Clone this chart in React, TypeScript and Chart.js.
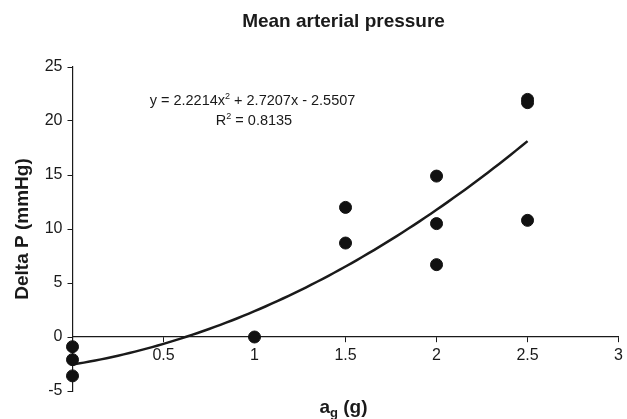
import React, { useEffect, useRef } from "react";
import { Chart, registerables } from "chart.js";

Chart.register(...registerables);

// ---- data ----
const accelerations = [0, 0, 0, 1, 1.5, 1.5, 2, 2, 2, 2.5, 2.5, 2.5];
const deltaP = [-0.9, -2.1, -3.6, 0, 12.0, 8.7, 14.9, 10.5, 6.7, 10.8, 22.0, 21.7];
const xTickValues = [0, 0.5, 1, 1.5, 2, 2.5, 3];
const yTickValues = [-5, 0, 5, 10, 15, 20, 25];
const trendCoefficients = [2.2214, 2.7207, -2.5507]; // y = a x^2 + b x + c
const trendRange = [0, 2.5];
const chartTitle = "Mean arterial pressure";
const yAxisTitle = "Delta P (mmHg)";
const xAxisTitleMain = "a";
const xAxisTitleSub = "g";
const xAxisTitleRest = " (g)";
const equationParts = [
  { t: "y = 2.2214x", sup: false },
  { t: "2", sup: true },
  { t: " + 2.7207x - 2.5507", sup: false },
];
const rSquaredParts = [
  { t: "R", sup: false },
  { t: "2", sup: true },
  { t: " = 0.8135", sup: false },
];

const FONT = "'Liberation Sans', Arial, Helvetica, sans-serif";
const INK = "#1a1a1a";

function drawParts(ctx: CanvasRenderingContext2D, parts: { t: string; sup: boolean }[], cx: number, baseline: number, size: number) {
  const main = `${size}px ${FONT}`;
  const small = `${Math.round(size * 0.65)}px ${FONT}`;
  let total = 0;
  for (const p of parts) {
    ctx.font = p.sup ? small : main;
    total += ctx.measureText(p.t).width;
  }
  let x = cx - total / 2;
  ctx.textAlign = "left";
  ctx.textBaseline = "alphabetic";
  for (const p of parts) {
    ctx.font = p.sup ? small : main;
    ctx.fillText(p.t, x, p.sup ? baseline - size * 0.38 : baseline);
    x += ctx.measureText(p.t).width;
  }
}

const trendPlugin = {
  id: "trendCurve",
  beforeDatasetsDraw(chart: any) {
    const { ctx, scales } = chart;
    const xs = scales.x;
    const ys = scales.y;
    const [a, b, c] = trendCoefficients;
    const steps = 80;
    ctx.save();
    ctx.beginPath();
    for (let i = 0; i <= steps; i++) {
      const xv = trendRange[0] + ((trendRange[1] - trendRange[0]) * i) / steps;
      const yv = a * xv * xv + b * xv + c;
      const px = xs.getPixelForValue(xv);
      const py = ys.getPixelForValue(yv);
      if (i === 0) ctx.moveTo(px, py);
      else ctx.lineTo(px, py);
    }
    ctx.strokeStyle = INK;
    ctx.lineWidth = 2.5;
    ctx.lineJoin = "round";
    ctx.stroke();
    ctx.restore();
  },
};

const textPlugin = {
  id: "texts",
  afterDraw(chart: any) {
    const { ctx, chartArea } = chart;
    const cx = (chartArea.left + chartArea.right) / 2 - 2;
    ctx.save();
    ctx.fillStyle = INK;
    // title
    ctx.font = `bold 19px ${FONT}`;
    ctx.textAlign = "center";
    ctx.textBaseline = "alphabetic";
    ctx.fillText(chartTitle, cx, 26.5);

    // x axis title with subscript
    const mainFont = `bold 19px ${FONT}`;
    const subFont = `bold 13px ${FONT}`;
    ctx.font = mainFont;
    const wA = ctx.measureText(xAxisTitleMain).width;
    const wR = ctx.measureText(xAxisTitleRest).width;
    ctx.font = subFont;
    const wG = ctx.measureText(xAxisTitleSub).width;
    let x = cx - (wA + wG + wR) / 2;
    ctx.textAlign = "left";
    ctx.font = mainFont;
    ctx.fillText(xAxisTitleMain, x, 413);
    x += wA;
    ctx.font = subFont;
    ctx.fillText(xAxisTitleSub, x, 417);
    x += wG;
    ctx.font = mainFont;
    ctx.fillText(xAxisTitleRest, x, 413);

    // y axis title
    ctx.save();
    ctx.translate(27.5, (chartArea.top + chartArea.bottom) / 2);
    ctx.rotate(-Math.PI / 2);
    ctx.textAlign = "center";
    ctx.font = `bold 19px ${FONT}`;
    ctx.fillText(yAxisTitle, 0, 0);
    ctx.restore();

    // equation
    drawParts(ctx, equationParts, 252.5, 105, 14.5);
    drawParts(ctx, rSquaredParts, 254, 125, 14.5);
    ctx.restore();
  },
};

export default function App() {
  const ref = useRef<HTMLCanvasElement | null>(null);
  useEffect(() => {
    if (!ref.current) return;
    const chart = new Chart(ref.current, {
      type: "scatter",
      data: {
        datasets: [
          {
            label: "Delta P",
            data: accelerations.map((x, i) => ({ x, y: deltaP[i] })),
            backgroundColor: "#111",
            borderColor: "#111",
            pointRadius: 6,
            pointHoverRadius: 6,
            clip: false as any,
          },
        ],
      },
      options: {
        animation: false,
        responsive: true,
        maintainAspectRatio: false,
        layout: { padding: { top: 67, bottom: 28, left: 0, right: 4 } },
        plugins: {
          legend: { display: false },
          tooltip: { enabled: false },
          title: { display: false },
        },
        scales: {
          x: {
            type: "linear",
            position: { y: 0 } as any,
            min: 0,
            max: 3,
            afterBuildTicks: (scale: any) => {
              scale.ticks = xTickValues.map((v) => ({ value: v }));
            },
            ticks: {
              color: INK,
              font: { family: FONT, size: 16 },
              padding: 4,
              maxRotation: 0,
              autoSkip: false,
              callback: (v: any) => (Number(v) === 0 ? "" : String(v)),
            },
            grid: {
              drawOnChartArea: false,
              drawTicks: true,
              tickLength: 5,
              color: INK,
              lineWidth: 1,
            },
            border: { display: true, color: INK, width: 1.2 },
          },
          y: {
            type: "linear",
            position: "left",
            min: -5,
            max: 25,
            afterBuildTicks: (scale: any) => {
              scale.ticks = yTickValues.map((v) => ({ value: v }));
            },
            afterFit: (scale: any) => {
              scale.width = 72.5;
            },
            ticks: {
              color: INK,
              font: { family: FONT, size: 16 },
              padding: 5,
              autoSkip: false,
            },
            grid: {
              drawOnChartArea: false,
              drawTicks: true,
              tickLength: 5,
              color: INK,
              lineWidth: 1,
            },
            border: { display: true, color: INK, width: 1.2 },
          },
        },
      },
      plugins: [trendPlugin, textPlugin],
    });
    return () => chart.destroy();
  }, []);
  return (
    <div style={{ position: "absolute", left: 0, top: 0, width: 627, height: 419, background: "#fff" }}>
      <canvas ref={ref} />
    </div>
  );
}
